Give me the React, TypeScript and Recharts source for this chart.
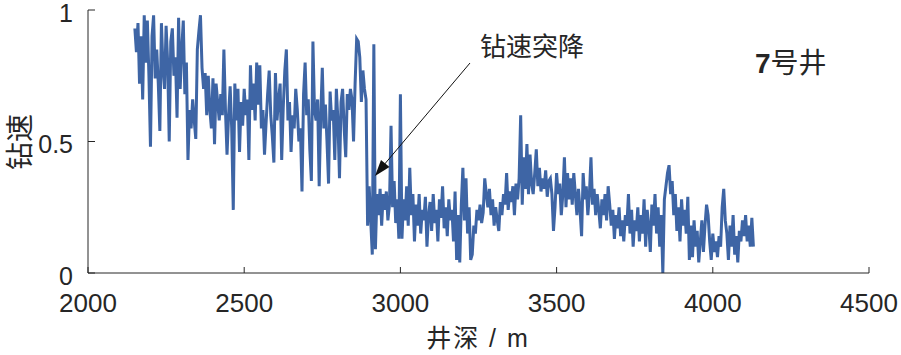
import React from 'react';
import { LineChart, Line, XAxis, YAxis } from 'recharts';

// 钻速 samples every 5 m, split by depth section
const stepM = 5;

const rop2150 = [
  0.93, 0.84, 0.95, 0.72, 0.90, 0.66, 0.98, 0.80, 0.96, 0.75,
  0.48, 0.90, 0.98, 0.74, 0.85, 0.72, 0.54, 0.95, 0.78, 0.70,
  0.94, 0.80, 0.50, 0.88, 0.93, 0.75, 0.82, 0.59, 0.97, 0.70,
  0.85, 0.96, 0.68, 0.80, 0.43, 0.62, 0.55, 0.66, 0.58, 0.51,
  0.85, 0.92, 0.98, 0.78, 0.70, 0.76, 0.60, 0.75, 0.62, 0.55,
  0.74, 0.49, 0.72, 0.65, 0.58, 0.68, 0.60, 0.85, 0.62, 0.45,
  0.60, 0.71, 0.55, 0.24, 0.72, 0.58, 0.70, 0.46, 0.65, 0.56,
];

const rop2500 = [
  0.70, 0.60, 0.66, 0.43, 0.79, 0.62, 0.72, 0.58, 0.80, 0.64,
  0.79, 0.55, 0.62, 0.45, 0.57, 0.68, 0.77, 0.60, 0.52, 0.42,
  0.76, 0.58, 0.66, 0.72, 0.43, 0.63, 0.77, 0.85, 0.58, 0.65,
  0.46, 0.60, 0.55, 0.70, 0.62, 0.50, 0.55, 0.31, 0.68, 0.80,
  0.60, 0.66, 0.47, 0.35, 0.88, 0.62, 0.58, 0.66, 0.33, 0.60,
  0.78, 0.55, 0.64, 0.50, 0.34, 0.69, 0.58, 0.62, 0.43, 0.70,
  0.58, 0.36, 0.65, 0.70, 0.55, 0.44, 0.68, 0.62, 0.70, 0.66,
  0.50, 0.72, 0.89, 0.88, 0.82, 0.65, 0.77, 0.70, 0.66, 0.18,
  0.33, 0.20, 0.07, 0.87, 0.09, 0.30, 0.22, 0.32, 0.18, 0.30,
  0.24, 0.31, 0.20, 0.26, 0.56, 0.25, 0.35, 0.19, 0.28, 0.13,
];

const rop3000 = [
  0.68, 0.13, 0.28, 0.20, 0.33, 0.18, 0.40, 0.22, 0.30, 0.12,
  0.26, 0.18, 0.30, 0.15, 0.24, 0.20, 0.29, 0.10, 0.22, 0.27,
  0.16, 0.30, 0.19, 0.24, 0.12, 0.28, 0.21, 0.33, 0.17, 0.25,
  0.14, 0.28, 0.20, 0.24, 0.12, 0.31, 0.05, 0.22, 0.04, 0.26,
  0.40, 0.20, 0.36, 0.15, 0.25, 0.05, 0.07, 0.18, 0.15, 0.24,
  0.20, 0.26, 0.19, 0.23, 0.36, 0.30, 0.25, 0.32, 0.22, 0.28,
  0.18, 0.25, 0.20, 0.16, 0.27, 0.22, 0.30, 0.26, 0.38, 0.24,
  0.31, 0.27, 0.33, 0.22, 0.34, 0.28, 0.36, 0.60, 0.26, 0.44,
  0.32, 0.49, 0.30, 0.45, 0.34, 0.30, 0.38, 0.47, 0.33, 0.40,
  0.31, 0.36, 0.32, 0.39, 0.29, 0.35, 0.36, 0.30, 0.16, 0.25,
];

const rop3500 = [
  0.38, 0.30, 0.34, 0.22, 0.30, 0.44, 0.25, 0.38, 0.28, 0.36,
  0.26, 0.38, 0.30, 0.22, 0.32, 0.24, 0.14, 0.38, 0.28, 0.33,
  0.22, 0.30, 0.44, 0.26, 0.32, 0.22, 0.30, 0.24, 0.17, 0.28,
  0.22, 0.30, 0.20, 0.33, 0.26, 0.18, 0.24, 0.13, 0.22, 0.17,
  0.25, 0.14, 0.20, 0.12, 0.22, 0.18, 0.30, 0.15, 0.24, 0.10,
  0.20, 0.16, 0.25, 0.12, 0.22, 0.15, 0.28, 0.10, 0.24, 0.18,
  0.08, 0.26, 0.18, 0.30, 0.15, 0.25, 0.10, 0.22, 0.00, 0.28,
  0.33, 0.38, 0.41, 0.30, 0.35, 0.22, 0.30, 0.16, 0.25, 0.12,
  0.28, 0.18, 0.24, 0.15, 0.29, 0.05, 0.18, 0.06, 0.20, 0.10,
  0.16, 0.04, 0.12, 0.20, 0.08, 0.18, 0.26, 0.22, 0.12, 0.05,
];

const rop4000 = [
  0.15, 0.08, 0.12, 0.06, 0.14, 0.10, 0.25, 0.32, 0.20, 0.15,
  0.05, 0.18, 0.10, 0.22, 0.07, 0.14, 0.04, 0.16, 0.12, 0.20,
  0.14, 0.22, 0.12, 0.18, 0.10, 0.21, 0.10,
];

const sections = [
  { start: 2150, values: rop2150 },
  { start: 2500, values: rop2500 },
  { start: 3000, values: rop3000 },
  { start: 3500, values: rop3500 },
  { start: 4000, values: rop4000 },
];

const xTicks = [2000, 2500, 3000, 3500, 4000, 4500];
const yTicks = [0, 0.5, 1];

const data = sections.flatMap(s =>
  s.values.map((v, i) => ({ depth: s.start + i * stepM, rop: v })),
);

const FONT = '"Liberation Sans", Arial, "Noto Sans CJK SC", sans-serif';
const INK = '#262626';

function XTick({ x, y, payload }: any) {
  return (
    <g>
      <line x1={x} y1={y} x2={x} y2={y - 6} stroke={INK} strokeWidth={1} />
      <text x={x} y={y + 39} textAnchor="middle" fontSize={26} fill={INK} fontFamily={FONT}>
        {payload.value}
      </text>
    </g>
  );
}

function YTick({ x, y, payload }: any) {
  return (
    <g>
      <line x1={x} y1={y} x2={x + 7} y2={y} stroke={INK} strokeWidth={1} />
      <text x={x - 15} y={y + 11.5} textAnchor="end" fontSize={25} fill={INK} fontFamily={FONT}>
        {payload.value}
      </text>
    </g>
  );
}

export default function App() {
  return (
    <div style={{ position: 'absolute', left: 0, top: 0, width: 901, height: 355, background: '#fff' }}>
      <LineChart width={901} height={355} data={data} margin={{ top: 10, right: 32, bottom: 0, left: 0 }}>
        <XAxis
          dataKey="depth"
          type="number"
          domain={[2000, 4500]}
          ticks={xTicks}
          height={82}
          tickSize={0}
          tickMargin={0}
          tickLine={false}
          axisLine={{ stroke: INK, strokeWidth: 1 }}
          tick={<XTick />}
          interval={0}
        />
        <YAxis
          type="number"
          domain={[0, 1]}
          ticks={yTicks}
          width={88}
          tickSize={0}
          tickMargin={0}
          tickLine={false}
          axisLine={{ stroke: INK, strokeWidth: 1 }}
          tick={<YTick />}
          interval={0}
        />
        <Line
          type="linear"
          dataKey="rop"
          stroke="#3e65a5"
          strokeWidth={3}
          dot={false}
          isAnimationActive={false}
        />
      </LineChart>
      <svg
        width={901}
        height={355}
        style={{ position: 'absolute', left: 0, top: 0, pointerEvents: 'none' }}
      >
        <text
          x={20}
          y={142}
          transform="rotate(-90 20 142)"
          textAnchor="middle"
          dominantBaseline="central"
          fontSize={28}
          fill={INK}
          fontFamily={FONT}
        >
          钻速
        </text>
        <text x={478} y={347} textAnchor="middle" fontSize={25} letterSpacing={2} fill={INK} fontFamily={FONT}>
          井深 / m
        </text>
        <text x={532} y={56} textAnchor="middle" fontSize={26} fill={INK} fontFamily={FONT}>
          钻速突降
        </text>
        <text x={755} y={73} fontSize={28} fill={INK} fontFamily={FONT}>
          <tspan fontWeight="bold">7</tspan>号井
        </text>
        <line x1={470} y1={63} x2={383} y2={166} stroke="#111" strokeWidth={1} />
        <polygon points="375,176 389.5,167 381,160" fill="#111" />
      </svg>
    </div>
  );
}
